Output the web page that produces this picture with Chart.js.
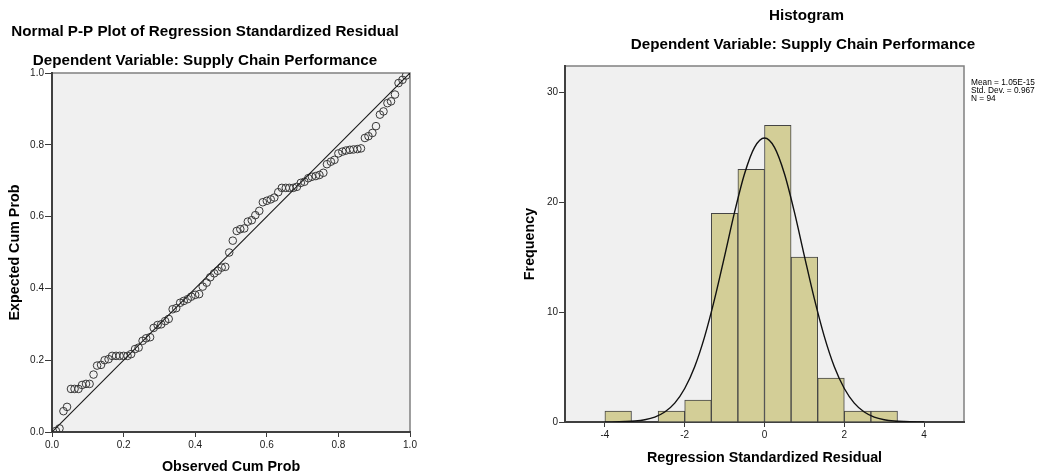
<!DOCTYPE html>
<html><head><meta charset="utf-8">
<script src="https://cdn.jsdelivr.net/npm/chart.js@4.4.1/dist/chart.umd.min.js"></script>
<style>
html,body{margin:0;padding:0;background:#fff;}
#wrap{position:relative;width:1053px;height:475px;overflow:hidden;background:#fff;}
#c1{position:absolute;left:0;top:0;}
#c2{position:absolute;left:520px;top:0;}
</style></head><body>
<div id="wrap">
<canvas id="c1" width="420" height="475"></canvas>
<canvas id="c2" width="533" height="475"></canvas>
</div>
<script>
// ---- P-P plot data ----
const ppObserved = [0.011,0.021,0.032,0.042,0.053,0.063,0.074,0.084,0.095,0.105,
0.116,0.126,0.137,0.147,0.158,0.168,0.179,0.189,0.200,0.211,
0.221,0.232,0.242,0.253,0.263,0.274,0.284,0.295,0.305,0.316,
0.326,0.337,0.347,0.358,0.368,0.379,0.389,0.400,0.411,0.421,
0.432,0.442,0.453,0.463,0.474,0.484,0.495,0.505,0.516,0.526,
0.537,0.547,0.558,0.568,0.579,0.589,0.600,0.611,0.621,0.632,
0.642,0.653,0.663,0.674,0.684,0.695,0.705,0.716,0.726,0.737,
0.747,0.758,0.768,0.779,0.789,0.800,0.811,0.821,0.832,0.842,
0.853,0.863,0.874,0.884,0.895,0.905,0.916,0.926,0.937,0.947,
0.958,0.968,0.979,0.989];
const ppExpected = [0.003,0.010,0.058,0.070,0.120,0.120,0.120,0.131,0.134,0.134,
0.160,0.185,0.187,0.200,0.203,0.212,0.212,0.212,0.212,0.212,
0.217,0.231,0.235,0.254,0.261,0.264,0.290,0.298,0.300,0.309,
0.315,0.342,0.345,0.360,0.365,0.370,0.377,0.382,0.384,0.405,
0.416,0.431,0.442,0.449,0.458,0.460,0.500,0.533,0.560,0.565,
0.567,0.586,0.590,0.604,0.616,0.640,0.644,0.648,0.653,0.668,
0.680,0.680,0.680,0.680,0.683,0.694,0.697,0.707,0.711,0.713,
0.716,0.722,0.746,0.753,0.758,0.776,0.781,0.784,0.786,0.787,
0.788,0.790,0.819,0.824,0.833,0.852,0.884,0.893,0.916,0.921,
0.940,0.972,0.981,0.993];
const ppRefLine = [[0,0],[1,1]];
const ppTicks = [0,0.2,0.4,0.6,0.8,1.0];
const ppTickLabels = ['0.0','0.2','0.4','0.6','0.8','1.0'];

// ---- Histogram data ----
const histBinCenters = [-3.6667,-3.0,-2.3333,-1.6667,-1.0,-0.3333,0.3333,1.0,1.6667,2.3333,3.0];
const histCounts = [1,0,1,2,19,23,27,15,4,1,1];
const curveX = [-4,-3.5,-3.25,-3,-2.75,-2.5,-2.25,-2,-1.75,-1.5,-1.25,-1,-0.75,-0.5,-0.25,0,
0.25,0.5,0.75,1,1.25,1.5,1.75,2,2.25,2.5,2.75,3,3.25,3.5,4];
const curveY = [0.005,0.04,0.09,0.21,0.45,0.91,1.72,3.05,5.03,7.77,11.2,15.1,19.1,22.6,25.0,25.85,
25.0,22.6,19.1,15.1,11.2,7.77,5.03,3.05,1.72,0.91,0.45,0.21,0.09,0.04,0.005];
const histXTicks = [-4,-2,0,2,4];
const histXTickLabels = ['-4','-2','0','2','4'];
const histYTicks = [0,10,20,30];
const histYTickLabels = ['0','10','20','30'];
const statLines = ['Mean = 1.05E-15','Std. Dev. = 0.967','N = 94'];

Chart.defaults.font.family = "'Liberation Sans', Arial, sans-serif";

const frameBg = {
  id:'frameBg',
  beforeDraw(chart){
    const {ctx, chartArea:a} = chart;
    ctx.save();
    ctx.fillStyle='#fff'; ctx.fillRect(0,0,chart.width,chart.height);
    ctx.fillStyle='#f0f0f0'; ctx.fillRect(a.left,a.top,a.right-a.left,a.bottom-a.top);
    ctx.strokeStyle='#808080'; ctx.lineWidth=1.5;
    ctx.strokeRect(a.left,a.top,a.right-a.left,a.bottom-a.top);
    ctx.restore();
  }
};
const textPlugin = {
  id:'texts',
  afterDraw(chart, args, opts){
    const ctx=chart.ctx; ctx.save();
    (opts.items||[]).forEach(t=>{
      ctx.font=t.font; ctx.fillStyle=t.color||'#000';
      ctx.textAlign=t.align||'center'; ctx.textBaseline='middle';
      ctx.fillText(t.text,t.x,t.y);
    });
    ctx.restore();
  }
};

const tickFont = {size:10};
const axisTitleFont = {size:14.3, weight:'bold', lineHeight:1};
const titleFont = "bold 15.2px 'Liberation Sans', Arial, sans-serif";
const statFont = "8.3px 'Liberation Sans', Arial, sans-serif";

function axisCommon(tl){
  return {
    grid:{display:true, offset:false, drawOnChartArea:false, drawTicks:true, tickLength:tl, tickColor:'#3a3a3a', tickWidth:1},
    border:{display:true, color:'#404040', width:2}
  };
}

// ---- Left: P-P plot ----
new Chart(document.getElementById('c1'), {
  type:'scatter',
  data:{datasets:[
    {type:'line', data:ppRefLine.map(p=>({x:p[0],y:p[1]})), borderColor:'#1a1a1a', borderWidth:1.1, pointRadius:0, order:0},
    {type:'scatter', data:ppObserved.map((x,i)=>({x:x,y:ppExpected[i]})), pointRadius:3.8,
     pointBorderColor:'#383838', pointBackgroundColor:'rgba(0,0,0,0)', pointBorderWidth:1, order:1}
  ]},
  options:{
    responsive:false, animation:false,
    layout:{padding:{top:73,right:10,left:0,bottom:0}},
    plugins:{legend:{display:false}, tooltip:{enabled:false},
      texts:{items:[
        {text:'Normal P-P Plot of Regression Standardized Residual', x:205, y:32.3, font:titleFont},
        {text:'Dependent Variable: Supply Chain Performance', x:205, y:60.8, font:titleFont}
      ]}},
    scales:{
      x:Object.assign(axisCommon(5), {type:'linear', min:0, max:1,
        afterBuildTicks:s=>{s.ticks=ppTicks.map(v=>({value:v}));},
        ticks:{callback:(v,i)=>ppTickLabels[i], font:tickFont, color:'#1a1a1a', padding:2, maxRotation:0, autoSkip:false},
        title:{display:true, text:'Observed Cum Prob', font:axisTitleFont, color:'#000', padding:{top:0,bottom:0.85}},
        afterFit:s=>{s.height=43;}}),
      y:Object.assign(axisCommon(7), {type:'linear', min:0, max:1,
        afterBuildTicks:s=>{s.ticks=ppTicks.map(v=>({value:v}));},
        ticks:{callback:(v,i)=>ppTickLabels[i], font:tickFont, color:'#1a1a1a', padding:1, autoSkip:false},
        title:{display:true, text:'Expected Cum Prob', font:axisTitleFont, color:'#000', padding:{top:7.85,bottom:0}},
        afterFit:s=>{s.width=52;}})
    }
  },
  plugins:[frameBg,textPlugin]
});

// ---- Right: Histogram ----
new Chart(document.getElementById('c2'), {
  type:'bar',
  data:{datasets:[
    {type:'line', data:curveX.map((x,i)=>({x:x,y:curveY[i]})), borderColor:'#111', borderWidth:1.4,
     pointRadius:0, cubicInterpolationMode:'monotone', order:0},
    {type:'bar', data:histBinCenters.map((x,i)=>({x:x,y:histCounts[i]})), backgroundColor:'#d3ce97',
     borderColor:'#454545', borderWidth:1, barPercentage:1, categoryPercentage:1, order:1}
  ]},
  options:{
    responsive:false, animation:false,
    layout:{padding:{top:66,right:89,left:0,bottom:0}},
    plugins:{legend:{display:false}, tooltip:{enabled:false},
      texts:{items:[
        {text:'Histogram', x:286.5, y:16.2, font:titleFont},
        {text:'Dependent Variable: Supply Chain Performance', x:283, y:45, font:titleFont},
        {text:statLines[0], x:451, y:82.7, font:statFont, align:'left'},
        {text:statLines[1], x:451, y:90.7, font:statFont, align:'left'},
        {text:statLines[2], x:451, y:98.5, font:statFont, align:'left'}
      ]}},
    scales:{
      x:Object.assign(axisCommon(5), {type:'linear', min:-5, max:5, offset:false,
        afterBuildTicks:s=>{s.ticks=histXTicks.map(v=>({value:v}));},
        ticks:{callback:(v,i)=>histXTickLabels[i], font:tickFont, color:'#1a1a1a', padding:2, maxRotation:0, autoSkip:false},
        title:{display:true, text:'Regression Standardized Residual', font:axisTitleFont, color:'#000', padding:{top:0,bottom:9.85}},
        afterFit:s=>{s.height=53;}}),
      y:Object.assign(axisCommon(6), {type:'linear', min:0, max:32.4,
        afterBuildTicks:s=>{s.ticks=histYTicks.map(v=>({value:v}));},
        ticks:{callback:(v,i)=>histYTickLabels[i], font:tickFont, color:'#1a1a1a', padding:1, autoSkip:false},
        title:{display:true, text:'Frequency', font:axisTitleFont, color:'#000', padding:{top:2.85,bottom:0}},
        afterFit:s=>{s.width=45;}})
    }
  },
  plugins:[frameBg,textPlugin]
});
</script>
</body></html>
